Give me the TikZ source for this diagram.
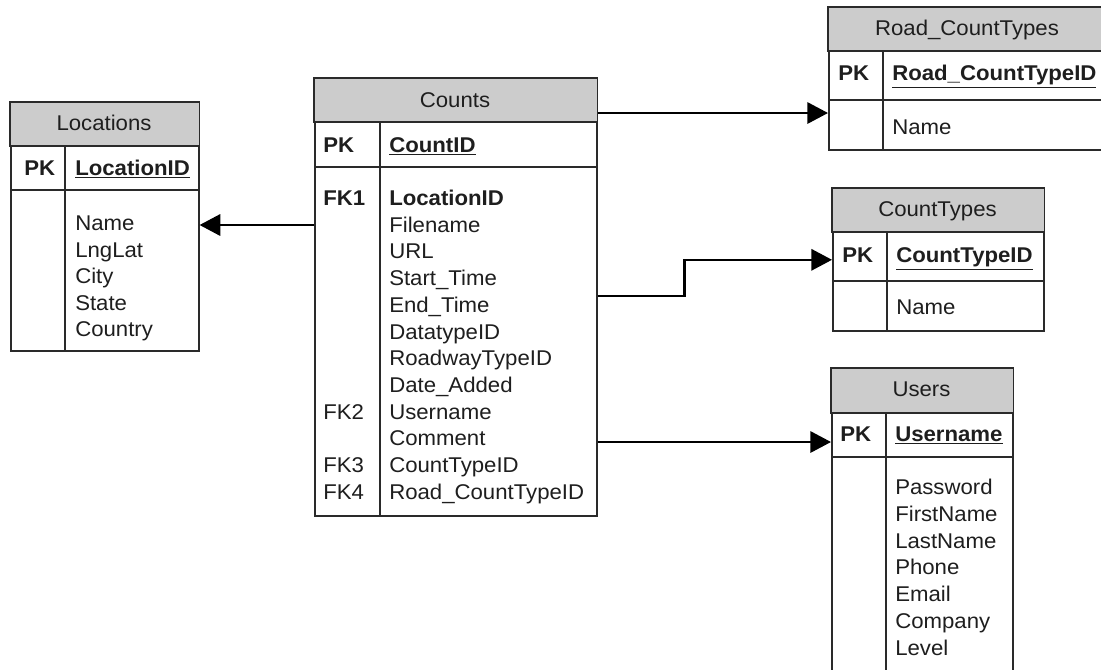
\documentclass[tikz,border=0pt]{standalone}
\usepackage{fontspec}
\setmainfont{Liberation Sans}[FakeStretch=1.04]
\usetikzlibrary{arrows.meta,calc}
\definecolor{hdrgray}{HTML}{CCCCCC}
\definecolor{lin}{HTML}{2A2A2A}
\definecolor{txt}{HTML}{1E1E1E}
\tikzset{
  tbl/.style={draw=lin, line width=1.2pt, fill=white, anchor=north west, inner sep=0pt},
  hdr/.style={draw=lin, line width=1.2pt, fill=hdrgray},
  sep/.style={draw=lin, line width=1.2pt},
  fld/.style={anchor=base west, inner sep=0pt, text=txt, font=\fontsize{16}{20}\selectfont},
  ttl/.style={anchor=base, inner sep=0pt, text=txt, font=\fontsize{16}{20}\selectfont},
  key/.style={fld, font=\fontsize{16}{20}\selectfont\bfseries},
  rel/.style={draw=black, line width=1.7pt, -{Triangle[length=15.5pt,width=16pt]}}
}
\begin{document}
\begin{tikzpicture}[x=0.75pt,y=-0.75pt]
\useasboundingbox (0,0) rectangle (1101,669);
\clip (0,0) rectangle (1101,669);
\fill[white] (0,0) rectangle (1101,669);

% ---------- Locations ----------
\node[tbl, minimum width=141pt, minimum height=186pt] (loc) at (10,102) {};
\draw[hdr] (loc.north west) rectangle ($(loc.north east)+(0,44)$);
\draw[sep] ($(loc.north west)+(0,88)$) -- ($(loc.north east)+(0,88)$);
\draw[sep] ($(loc.north west)+(55,44)$) -- ($(loc.south west)+(55,0)$);
\node[ttl] (loct) at (104,130.5) {Locations};
\node[key] (locpk) at (24,175.5) {PK};
\node[key] (locid) at (75,175.5) {\underline{LocationID}};
\foreach \t [count=\i from 0] in {Name,LngLat,City,State,Country}
  \node[fld, name=locf\i] at (75,230.5+26.6*\i) {\t};

% ---------- Counts ----------
\node[tbl, minimum width=211.5pt, minimum height=327.75pt] (counts) at (314,78) {};
\draw[hdr] (counts.north west) rectangle ($(counts.north east)+(0,44)$);
\draw[sep] ($(counts.north west)+(0,89)$) -- ($(counts.north east)+(0,89)$);
\draw[sep] ($(counts.north west)+(66,44)$) -- ($(counts.south west)+(66,0)$);
\node[ttl] (countst) at (455,107.5) {Counts};
\node[key] (countspk) at (323,152.5) {PK};
\node[key] (countsid) at (389,152.5) {\underline{CountID}};
\node[key] (fk1) at (323,205.5) {FK1};
\node[key] (cf0) at (389,205.5) {LocationID};
\foreach \t [count=\i from 1] in {Filename,URL,Start\_Time,End\_Time,DatatypeID,RoadwayTypeID,Date\_Added,Username,Comment,CountTypeID,Road\_CountTypeID}
  \node[fld, name=cf\i] at (389,205.5+26.7*\i) {\t};
\node[fld] (fk2) at (323,205.5+26.7*8) {FK2};
\node[fld] (fk3) at (323,205.5+26.7*10) {FK3};
\node[fld] (fk4) at (323,205.5+26.7*11) {FK4};

% ---------- Road_CountTypes ----------
\node[tbl, minimum width=211.5pt, minimum height=106.5pt] (rct) at (828,7) {};
\draw[hdr] (rct.north west) rectangle ($(rct.north east)+(0,44)$);
\draw[sep] ($(rct.north west)+(0,93)$) -- ($(rct.north east)+(0,93)$);
\draw[sep] ($(rct.north west)+(55,44)$) -- ($(rct.south west)+(55,0)$);
\node[ttl] (rctt) at (967,35.5) {Road\_CountTypes};
\node[key] (rctpk) at (838,80.5) {PK};
\node[key] (rctid) at (892,80.5) {\underline{Road\_CountTypeID}};
\node[fld] (rctn) at (892,134.5) {Name};

% ---------- CountTypes ----------
\node[tbl, minimum width=158.25pt, minimum height=106.5pt] (ct) at (832,188) {};
\draw[hdr] (ct.north west) rectangle ($(ct.north east)+(0,44)$);
\draw[sep] ($(ct.north west)+(0,93)$) -- ($(ct.north east)+(0,93)$);
\draw[sep] ($(ct.north west)+(55,44)$) -- ($(ct.south west)+(55,0)$);
\node[ttl] (ctt) at (937.5,216.5) {CountTypes};
\node[key] (ctpk) at (842,262.5) {PK};
\node[key] (ctid) at (896,262.5) {\underline{CountTypeID}};
\node[fld] (ctn) at (896,314.5) {Name};

% ---------- Users ----------
\node[tbl, minimum width=135.75pt, minimum height=247.5pt] (users) at (831,368) {};
\draw[hdr] (users.north west) rectangle ($(users.north east)+(0,45)$);
\draw[sep] ($(users.north west)+(0,89)$) -- ($(users.north east)+(0,89)$);
\draw[sep] ($(users.north west)+(55,45)$) -- ($(users.south west)+(55,0)$);
\node[ttl] (userst) at (921.5,396.5) {Users};
\node[key] (userspk) at (840,441.5) {PK};
\node[key] (usersid) at (895,441.5) {\underline{Username}};
\foreach \t [count=\i from 0] in {Password,FirstName,LastName,Phone,Email,Company,Level}
  \node[fld, name=uf\i] at (895,494.5+26.8*\i) {\t};

% ---------- Connectors ----------
\coordinate (c1) at ($(counts.north west)+(0,147)$);
\draw[rel] (c1) -- (c1 -| loc.east);
\coordinate (c2) at ($(counts.north east)+(0,35)$);
\draw[rel] (c2) -- (c2 -| rct.west);
\coordinate (c3) at ($(counts.north east)+(0,218)$);
\draw[rel] (c3) -- ++(87,0) |- (ct.west);
\coordinate (c4) at ($(counts.north east)+(0,364)$);
\draw[rel] (c4) -- (c4 -| users.west);
\end{tikzpicture}
\end{document}
